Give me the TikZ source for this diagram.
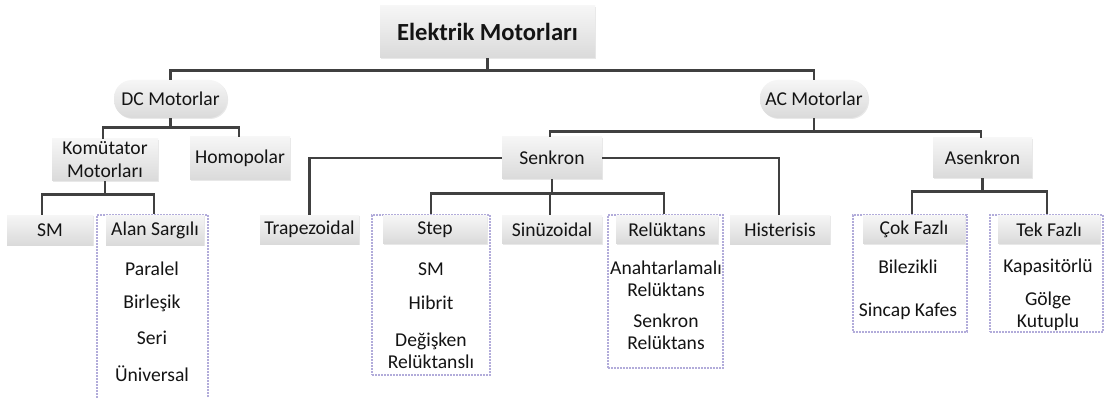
\documentclass[tikz,border=0pt]{standalone}
\usepackage{fontspec}
\setmainfont{Carlito}
\usetikzlibrary{calc,shadows}
\definecolor{lnc}{HTML}{404040}
\definecolor{btop}{HTML}{F6F6F6}
\definecolor{bbot}{HTML}{DADADA}
\definecolor{dashc}{HTML}{B2ACDA}
\definecolor{txt}{HTML}{141414}
\tikzset{
  boxn/.style={rectangle, top color=btop, bottom color=bbot, inner sep=0pt,
    draw=none, text=txt, align=center,
    font=\fontsize{19.6}{23}\selectfont,
    drop shadow={opacity=0.18, shadow xshift=1pt, shadow yshift=-1pt}},
  pill/.style={boxn, rounded corners=18pt},
  cont/.style={rectangle, draw=dashc, line width=1.1pt, dash pattern=on 1.6pt off 1.4pt, inner sep=0pt},
  itemn/.style={text=txt, align=center, inner sep=0pt, font=\fontsize{19.6}{22}\selectfont},
  lnk/.style={draw=lnc, line width=2.8pt}
}
\begin{document}
\begin{tikzpicture}[x=1pt,y=-1pt]
\useasboundingbox[fill=white] (0,0) rectangle (1105,398);

% containers (dashed)
\node[cont, minimum width=111pt, minimum height=185pt] (alanc) at (152.5,307.5) {};
\node[cont, minimum width=118pt, minimum height=160pt] (stepc) at (431,295) {};
\node[cont, minimum width=115pt, minimum height=153pt] (relc) at (665.5,291.5) {};
\node[cont, minimum width=114pt, minimum height=117pt] (cokc) at (910,273.5) {};
\node[cont, minimum width=113pt, minimum height=117pt] (tekc) at (1046.5,273.5) {};

% main boxes
\node[boxn, minimum width=215pt, minimum height=52pt, font=\fontsize{24.6}{28}\selectfont\bfseries] (top) at (487.5,32) {Elektrik Motorları};
\node[pill, minimum width=113pt, minimum height=38pt] (dc) at (170.5,99) {DC Motorlar};
\node[pill, minimum width=108pt, minimum height=38pt] (ac) at (814,99) {AC Motorlar};
\node[boxn, minimum width=106pt, minimum height=42pt] (kom) at (105,160) {Komütator\\Motorları};
\node[boxn, minimum width=100pt, minimum height=43pt] (homo) at (240,158.5) {Homopolar};
\node[boxn, minimum width=100pt, minimum height=42pt] (senk) at (552,158) {Senkron};
\node[boxn, minimum width=99pt, minimum height=40pt] (asenk) at (982.5,158) {Asenkron};

% third level
\node[boxn, minimum width=86pt, minimum height=30pt] (sm) at (50,230) {SM};
\node[boxn, minimum width=98pt, minimum height=30pt] (alan) at (155,230) {Alan Sargılı};
\node[boxn, minimum width=99pt, minimum height=29pt] (trap) at (309.5,229.5) {Trapezoidal};
\node[boxn, minimum width=104pt, minimum height=28pt] (step) at (435,229.5) {Step};
\node[boxn, minimum width=100pt, minimum height=28pt] (sinus) at (552,229.5) {Sinüzoidal};
\node[boxn, minimum width=102pt, minimum height=28pt] (rel) at (667,229.5) {Relüktans};
\node[boxn, minimum width=100pt, minimum height=29pt] (hist) at (780,229.5) {Histerisis};
\node[boxn, minimum width=102pt, minimum height=28pt] (cok) at (914,229.5) {Çok Fazlı};
\node[boxn, minimum width=102pt, minimum height=28pt] (tek) at (1049,229.5) {Tek Fazlı};

% items
\node[itemn] (a1) at (152,269) {Paralel};
\node[itemn] (a2) at (152,303) {Birleşik};
\node[itemn] (a3) at (152,338) {Seri};
\node[itemn] (a4) at (152,374) {Üniversal};
\node[itemn] (s1) at (431,269) {SM};
\node[itemn] (s2) at (431,303) {Hibrit};
\node[itemn] (s3) at (431,351) {Değişken\\Relüktanslı};
\node[itemn] (r1) at (666,278.5) {Anahtarlamalı\\Relüktans};
\node[itemn] (r2) at (666,332) {Senkron\\Relüktans};
\node[itemn] (c1) at (908,267) {Bilezikli};
\node[itemn] (c2) at (908,311) {Sincap Kafes};
\node[itemn] (t1) at (1048,267) {Kapasitörlü};
\node[itemn] (t2) at (1048,311) {Gölge\\Kutuplu};

% connectors
\draw[lnk] (top.south) -- ++(0,12.5) coordinate (j1);
\draw[lnk] (j1) -| (dc.north);
\draw[lnk] (j1) -| (ac.north);

\draw[lnk] (dc.south) -- ++(0,9) coordinate (j2);
\draw[lnk] (j2) -| ([xshift=-2pt]kom.north);
\draw[lnk] (j2) -| ([xshift=-1pt]homo.north);

\draw[lnk] (kom.south) -- ++(0,13.5) coordinate (j3);
\draw[lnk] (j3) -| ([xshift=-8pt]sm.north);
\draw[lnk] (j3) -| ([xshift=1.5pt]alanc.north);

\draw[lnk] (ac.south) -- ++(0,13.5) coordinate (j4);
\draw[lnk] (j4) -| ([xshift=-2pt]senk.north);
\draw[lnk] (j4) -| ([xshift=-1.5pt]asenk.north);

\draw[lnk] (senk.west) -| (trap.north);
\draw[lnk] (senk.east) -| ([xshift=-1pt]hist.north);
\draw[lnk] (senk.south) -- ++(0,14) coordinate (j5);
\draw[lnk] (j5) -| (stepc.north);
\draw[lnk] (j5) -| ([xshift=-2pt]sinus.north);
\draw[lnk] (j5) -| ([xshift=-1.5pt]relc.north);

\draw[lnk] (asenk.south) -- ++(0,13) coordinate (j6);
\draw[lnk] (j6) -| ([xshift=2pt]cokc.north);
\draw[lnk] (j6) -| ([xshift=0.5pt]tekc.north);
\end{tikzpicture}
\end{document}
